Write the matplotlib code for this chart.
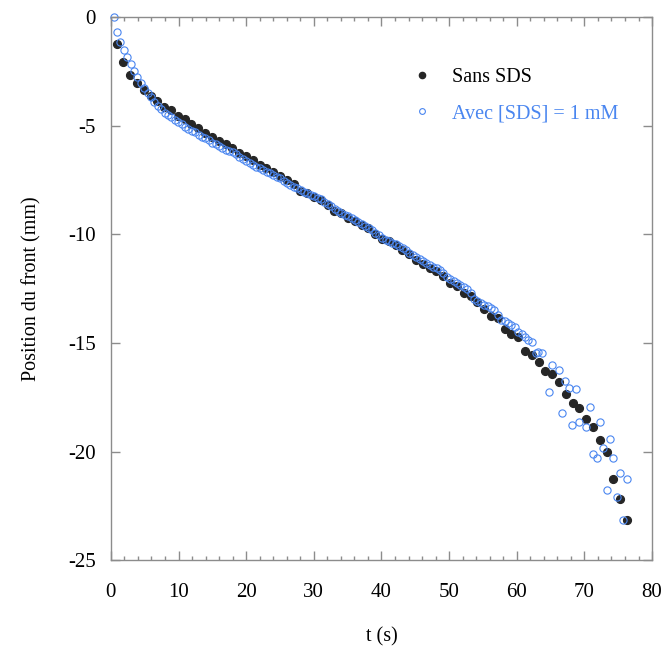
import numpy as np
import matplotlib
matplotlib.use("Agg")
import matplotlib.pyplot as plt
from matplotlib.ticker import MultipleLocator

plt.rcParams['font.family'] = ['Liberation Serif', 'DejaVu Serif']
plt.rcParams['axes.unicode_minus'] = False

# --- data ---
# Sans SDS : one point per second (approx.)
sans_sds = [-1.21, -2.06, -2.67, -3.02, -3.36, -3.63, -3.86, -4.13, -4.28, -4.53,
            -4.68, -4.89, -5.11, -5.31, -5.51, -5.69, -5.81, -6.0, -6.24, -6.39,
            -6.58, -6.79, -6.92, -7.12, -7.29, -7.48, -7.68, -7.98, -8.1, -8.25,
            -8.39, -8.65, -8.9, -9.03, -9.22, -9.36, -9.57, -9.72, -9.97, -10.2,
            -10.32, -10.5, -10.72, -10.9, -11.16, -11.38, -11.53, -11.66, -11.93, -12.25,
            -12.39, -12.68, -12.83, -13.13, -13.45, -13.74, -13.83, -14.34, -14.57, -14.74,
            -15.35, -15.53, -15.86, -16.27, -16.44, -16.81, -17.37, -17.76, -17.99, -18.51,
            -18.88, -19.48, -20.03, -21.28, -22.19, -23.17]
t_sans = np.linspace(0.85, 76.3, len(sans_sds))

# Avec [SDS] = 1 mM : regular part (~0.5 s)
avec_sds = [0, -0.68, -1.15, -1.52, -1.84, -2.15, -2.48, -2.76, -3.01, -3.24,
            -3.48, -3.68, -3.91, -4.08, -4.23, -4.39, -4.49, -4.57, -4.72, -4.82,
            -4.92, -5.03, -5.12, -5.23, -5.29, -5.4, -5.49, -5.57, -5.66, -5.77,
            -5.84, -5.92, -6.03, -6.09, -6.14, -6.21, -6.3, -6.43, -6.53, -6.62,
            -6.72, -6.79, -6.87, -6.95, -7.02, -7.1, -7.16, -7.24, -7.33, -7.42,
            -7.53, -7.61, -7.71, -7.79, -7.88, -7.96,
            -8.05, -8.1, -8.16, -8.22, -8.3, -8.38, -8.48, -8.58, -8.7, -8.82,
            -8.93, -9.0, -9.08, -9.17, -9.25, -9.33, -9.43, -9.53, -9.62, -9.7,
            -9.8, -9.92, -10.03, -10.14, -10.24, -10.3, -10.38, -10.46, -10.52, -10.6,
            -10.7, -10.83, -10.95, -11.05, -11.12, -11.22, -11.3, -11.4, -11.48, -11.56,
            -11.65, -11.76,
            -11.96, -12.05, -12.13, -12.24, -12.31, -12.42, -12.51, -12.7, -12.97, -13.05,
            -13.16, -13.24, -13.31, -13.4, -13.5, -13.7, -13.92, -14.0, -14.08, -14.18,
            -14.26, -14.5, -14.6, -14.72, -14.84, -14.97]
t_avec = np.linspace(0.4, 62.22, len(avec_sds))

# Avec [SDS] = 1 mM : noisy tail
t_avec_tail = [62.9, 63.2, 63.7, 64.7, 65.2, 66.2, 66.7, 67.2, 67.7, 68.2,
               68.8, 69.2, 70.3, 70.8, 71.2, 71.8, 72.3, 72.8, 73.3, 73.8,
               74.3, 74.8, 75.2, 75.7, 76.3]
avec_tail = [-15.46, -15.41, -15.46, -17.25, -15.99, -16.22, -18.23, -16.74, -17.07, -18.79,
             -17.14, -18.65, -18.86, -17.96, -20.13, -20.28, -18.65, -19.83, -21.76, -19.41,
             -20.3, -22.08, -20.97, -23.16, -21.25]

blue = '#4a86f0'
dark = '#262626'
grey = '#8c8c8c'

fig = plt.figure(figsize=(6.64, 6.46), dpi=100)
ax = fig.add_axes([0.167, 0.133, 0.815, 0.840])

ax.plot(t_sans, sans_sds, 'o', color=dark, ms=5.6, mec=dark, label='Sans SDS', clip_on=False)
ax.plot(np.concatenate([t_avec, t_avec_tail]), avec_sds + avec_tail, 'o', mfc='none',
        mec=blue, ms=5.2, mew=0.8, label='Avec [SDS] = 1 mM', clip_on=False)

ax.set_xlim(0, 80)
ax.set_ylim(-25, 0)
ax.xaxis.set_major_locator(MultipleLocator(10))
ax.xaxis.set_minor_locator(MultipleLocator(2))
ax.yaxis.set_major_locator(MultipleLocator(5))

for s in ax.spines.values():
    s.set_color(grey)
    s.set_linewidth(1.0)
ax.tick_params(which='both', direction='in', top=True, right=True, color=grey, width=1.0)
ax.tick_params(which='major', length=6.5)
ax.tick_params(which='minor', length=3)
ax.tick_params(axis='x', which='major', pad=16.5, labelsize=15, labelcolor='black')
ax.tick_params(axis='y', which='major', pad=11, labelsize=15, labelcolor='black')

ax.set_xlabel('t (s)', fontsize=14.5, labelpad=18)
ax.set_ylabel('Position du front (mm)', fontsize=14.5, labelpad=19)

leg = ax.legend(loc='upper left', bbox_to_anchor=(0.522, 0.94), frameon=False,
                fontsize=14.5, handlelength=1.0, handletextpad=1.0, labelspacing=0.85,
                markerscale=0.8)
leg.get_texts()[1].set_color(blue)

fig.savefig('out.png', dpi=100)
